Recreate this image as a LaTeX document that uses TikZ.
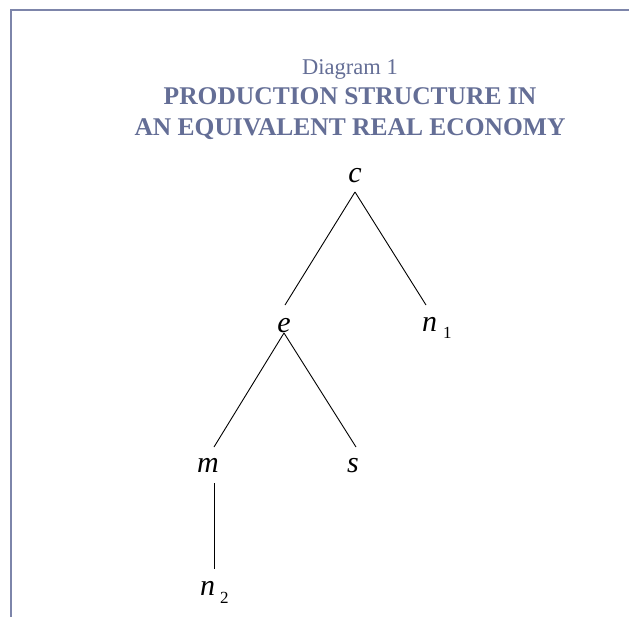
\documentclass[tikz,border=0pt]{standalone}
\usepackage{fontspec}
\setmainfont{Liberation Serif}
\definecolor{titleblue}{HTML}{646E96}
\definecolor{framecol}{HTML}{7D85AA}
\begin{document}
\begin{tikzpicture}[x=1pt,y=-1pt,
  letter/.style={anchor=base,inner sep=0pt,font=\fontsize{30}{30}\selectfont\itshape},
  branch/.style={line width=0.9pt,black},
  titletext/.style={inner sep=0pt,anchor=base,text=titleblue}]
\useasboundingbox (0,0) rectangle (629,616);
\fill[white] (0,0) rectangle (629,616);
\draw[framecol,line width=2pt] (11,617) -- (11,10) -- (630,10);
% title
\node[titletext,font=\fontsize{22.5}{22.5}\selectfont] (t1) at (350,74) {Diagram 1};
\node[titletext,font=\fontsize{25.5}{25.5}\selectfont\bfseries] (t2) at (350,104) {PRODUCTION STRUCTURE IN};
\node[titletext,font=\fontsize{25.5}{25.5}\selectfont\bfseries] (t3) at (350,135) {AN EQUIVALENT REAL ECONOMY};
% tree
\node[letter] (c) at (355,182) {c};
\node[letter] (e) at (284,332) {e};
\node[letter,anchor=base west] (n1) at (422,331) {n\hspace{6pt}\raisebox{-7pt}{\upshape\fontsize{17}{17}\selectfont 1}};
\node[letter] (m) at (208,472) {m};
\node[letter] (s) at (353,472) {s};
\node[letter,anchor=base west] (n2) at (200,595) {n\hspace{5pt}\raisebox{-8pt}{\upshape\fontsize{17}{17}\selectfont 2}};
\draw[branch] ([yshift=-10pt]c.base) -- ([xshift=1pt,yshift=27pt]e.base);
\draw[branch] ([yshift=-10pt]c.base) -- ([xshift=4pt,yshift=26pt]n1.base west);
\draw[branch] ([yshift=-1pt]e.base) -- ([xshift=6pt,yshift=25pt]m.base);
\draw[branch] ([yshift=-1pt]e.base) -- ([xshift=3pt,yshift=25pt]s.base);
\draw[branch] ([xshift=6pt,yshift=-11pt]m.base) -- ([xshift=14pt,yshift=26pt]n2.base west);
\end{tikzpicture}
\end{document}
